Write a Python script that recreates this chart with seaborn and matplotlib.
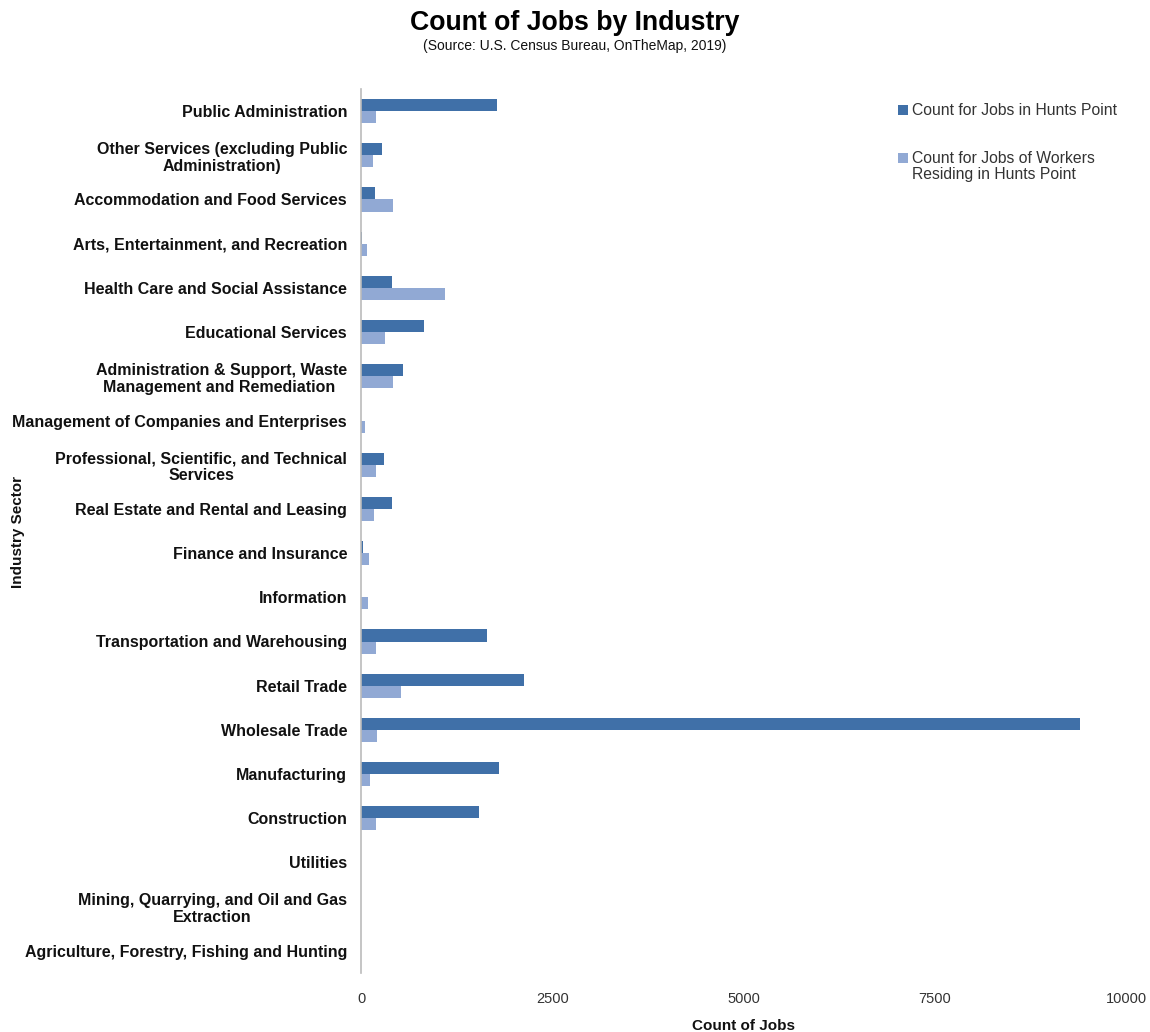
import matplotlib
matplotlib.use("Agg")
import matplotlib.pyplot as plt
import seaborn as sns
import pandas as pd
from matplotlib.patches import Patch

industries = [
    "Public Administration",
    "Other Services (excluding Public\nAdministration)",
    "Accommodation and Food Services",
    "Arts, Entertainment, and Recreation",
    "Health Care and Social Assistance",
    "Educational Services",
    "Administration & Support, Waste\nManagement and Remediation ",
    "Management of Companies and Enterprises",
    "Professional, Scientific, and Technical\nServices",
    "Real Estate and Rental and Leasing",
    "Finance and Insurance",
    "Information",
    "Transportation and Warehousing",
    "Retail Trade",
    "Wholesale Trade",
    "Manufacturing",
    "Construction",
    "Utilities",
    "Mining, Quarrying, and Oil and Gas\nExtraction",
    "Agriculture, Forestry, Fishing and Hunting",
]

jobs_in_hunts_point = [1778, 275, 179, 8, 409, 824, 545, 0, 301, 409,
                       22, 0, 1643, 2131, 9399, 1804, 1542, 0, 0, 0]
jobs_of_residents = [200, 153, 414, 78, 1098, 314, 423, 57, 196, 170,
                     105, 96, 192, 523, 212, 118, 192, 0, 0, 0]

series_names = ["Count for Jobs in Hunts Point",
                "Count for Jobs of Workers Residing in Hunts Point"]
legend_lines = [["Count for Jobs in Hunts Point"],
                ["Count for Jobs of Workers", "Residing in Hunts Point"]]
colors = ["#4070a8", "#91a9d4"]

df = pd.DataFrame({
    "Industry": industries * 2,
    "Count": jobs_in_hunts_point + jobs_of_residents,
    "Series": [series_names[0]] * len(industries) + [series_names[1]] * len(industries),
})

sns.set_style("white")
plt.rcParams["font.family"] = ["Liberation Sans", "DejaVu Sans"]

fig = plt.figure(figsize=(11.5, 10.32), dpi=100)
ax = fig.add_axes([361 / 1150, 1 - 973 / 1032, (1126 - 361) / 1150, (973 - 89) / 1032])

sns.barplot(data=df, y="Industry", x="Count", hue="Series", order=industries,
            hue_order=series_names, palette=colors, orient="h", width=0.55,
            saturation=1, linewidth=0, edgecolor="none", ax=ax, legend=False)

ax.set_xlim(0, 10000)
ax.set_ylim(len(industries) - 0.5, -0.5)
ax.set_xticks([0, 2500, 5000, 7500, 10000])
ax.set_xticklabels(["0", "2500", "5000", "7500", "10000"], fontsize=10.5, color="#333333")
ax.tick_params(axis="x", length=0, pad=14)
ax.tick_params(axis="y", length=0, pad=10)
for lbl in ax.get_yticklabels():
    lbl.set_fontweight("bold")
    lbl.set_fontsize(11.5)
    lbl.set_multialignment("center")
    lbl.set_color("#111111")
    lbl.set_linespacing(1.15)

for side in ["top", "right", "bottom"]:
    ax.spines[side].set_visible(False)
ax.spines["left"].set_color("#bbbbbb")
ax.spines["left"].set_linewidth(1.2)

ax.set_xlabel("")
ax.set_ylabel("")
fig.text((361 + 1126) / 2 / 1150, 1 - 1026 / 1032, "Count of Jobs", fontsize=11,
         fontweight="bold", ha="center", va="center", color="#111111")
fig.text(18 / 1150, 1 - 532 / 1032, "Industry Sector", rotation=90, fontsize=11,
         fontweight="bold", ha="center", va="center", color="#111111")

fig.text(0.5, 1 - 23 / 1032, "Count of Jobs by Industry", fontsize=19.2,
         fontweight="bold", ha="center", va="center", color="black")
fig.text(0.5, 1 - 46 / 1032, "(Source: U.S. Census Bureau, OnTheMap, 2019)",
         fontsize=10, ha="center", va="center", color="#111111")

# Legend: handle sits beside the first line of each entry
handles = [Patch(facecolor=c, edgecolor="none") for c in colors]
leg = fig.legend(handles, [lines[0] for lines in legend_lines], loc="upper left",
                 bbox_to_anchor=(884 / 1150, 1 - 89 / 1032), frameon=False,
                 fontsize=11.3, handlelength=0.6, handleheight=0.6,
                 handletextpad=0.3, labelspacing=2.1, labelcolor="#333333")
fig.canvas.draw()
last = leg.get_texts()[1]
bb = last.get_window_extent()
inv = fig.transFigure.inverted()
x0, y0 = inv.transform((bb.x0, bb.y0))
fig.text(x0, y0 - 1 / 1032, legend_lines[1][1], fontsize=11.3, color="#333333",
         ha="left", va="top")

fig.savefig("out.png", dpi=100)
